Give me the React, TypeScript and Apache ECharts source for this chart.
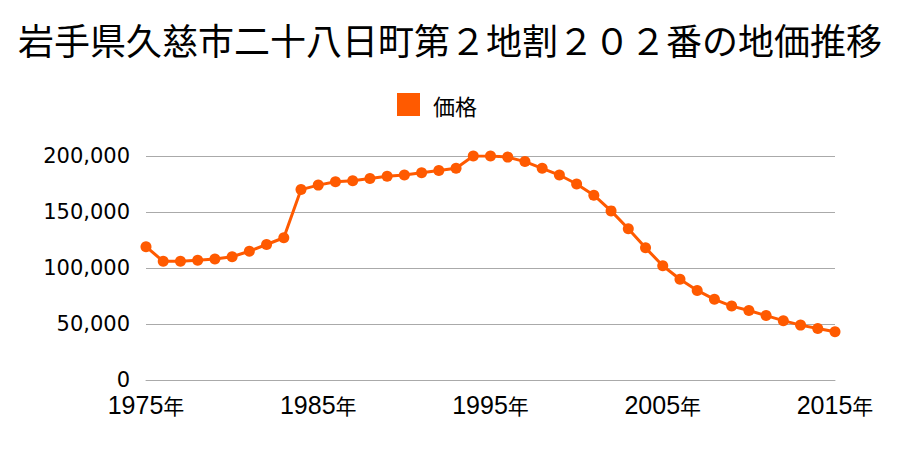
import React, { useEffect, useRef } from "react";
import * as echarts from "echarts";

const years: string[] = [];
for (let y = 1975; y <= 2015; y++) years.push(String(y));

const prices: number[] = [
  119000, 106000, 106000, 107000, 108000, 110000, 115000, 121000, 127000, 170000,
  174000, 177000, 178000, 180000, 182000, 183000, 185000, 187000, 189000, 200000,
  200000, 199000, 195000, 189000, 183000, 175000, 165000, 151000, 135000, 118000,
  102000, 90000, 80000, 72000, 66000, 62000, 57500, 53000, 49000, 46000, 43000,
];

const titleText = "岩手県久慈市二十八日町第２地割２０２番の地価推移";
const seriesName = "価格";

export default function App() {
  const ref = useRef<HTMLDivElement>(null);
  useEffect(() => {
    if (!ref.current) return;
    const chart = echarts.init(ref.current, null, { renderer: "svg" });
    const cjk = "'Noto Sans CJK JP', sans-serif";
    chart.setOption({
      animation: false,
      title: {
        text: titleText,
        left: "center",
        top: 16,
        textStyle: { fontFamily: cjk, fontSize: 36, fontWeight: "normal", color: "#000" },
      },
      legend: {
        top: 88,
        left: 392,
        itemWidth: 23,
        itemHeight: 23,
        icon: "rect",
        textStyle: { fontFamily: cjk, fontSize: 22, color: "#000", padding: [0, 0, 0, 8] },
        data: [seriesName],
      },
      grid: { left: 146, right: 65, top: 156, bottom: 70 },
      xAxis: {
        type: "category",
        data: years,
        boundaryGap: false,
        axisLine: { lineStyle: { color: "#aaaaaa" } },
        axisTick: { show: false },
        axisLabel: {
          interval: 9,
          margin: 12,
          formatter: (v: string) => "{n|" + v + "}{y|年}",
          rich: {
            n: { fontFamily: "'Liberation Sans', sans-serif", fontSize: 25, color: "#000" },
            y: { fontFamily: cjk, fontSize: 21, color: "#000" },
          },
        },
      },
      yAxis: {
        type: "value",
        min: 0,
        max: 200000,
        interval: 50000,
        axisLine: { show: false },
        axisTick: { show: false },
        splitLine: { lineStyle: { color: "#aaaaaa" } },
        axisLabel: {
          fontFamily: "'DejaVu Sans', sans-serif",
          fontSize: 21,
          color: "#000",
          margin: 16,
          formatter: (v: number) => v.toLocaleString("en-US"),
        },
      },
      series: [
        {
          name: seriesName,
          type: "line",
          data: prices,
          symbol: "circle",
          symbolSize: 11,
          itemStyle: { color: "#ff5a00" },
          lineStyle: { color: "#ff5a00", width: 3 },
        },
      ],
    });
    return () => chart.dispose();
  }, []);
  return <div ref={ref} style={{ width: 900, height: 450, margin: -8 }} />;
}
